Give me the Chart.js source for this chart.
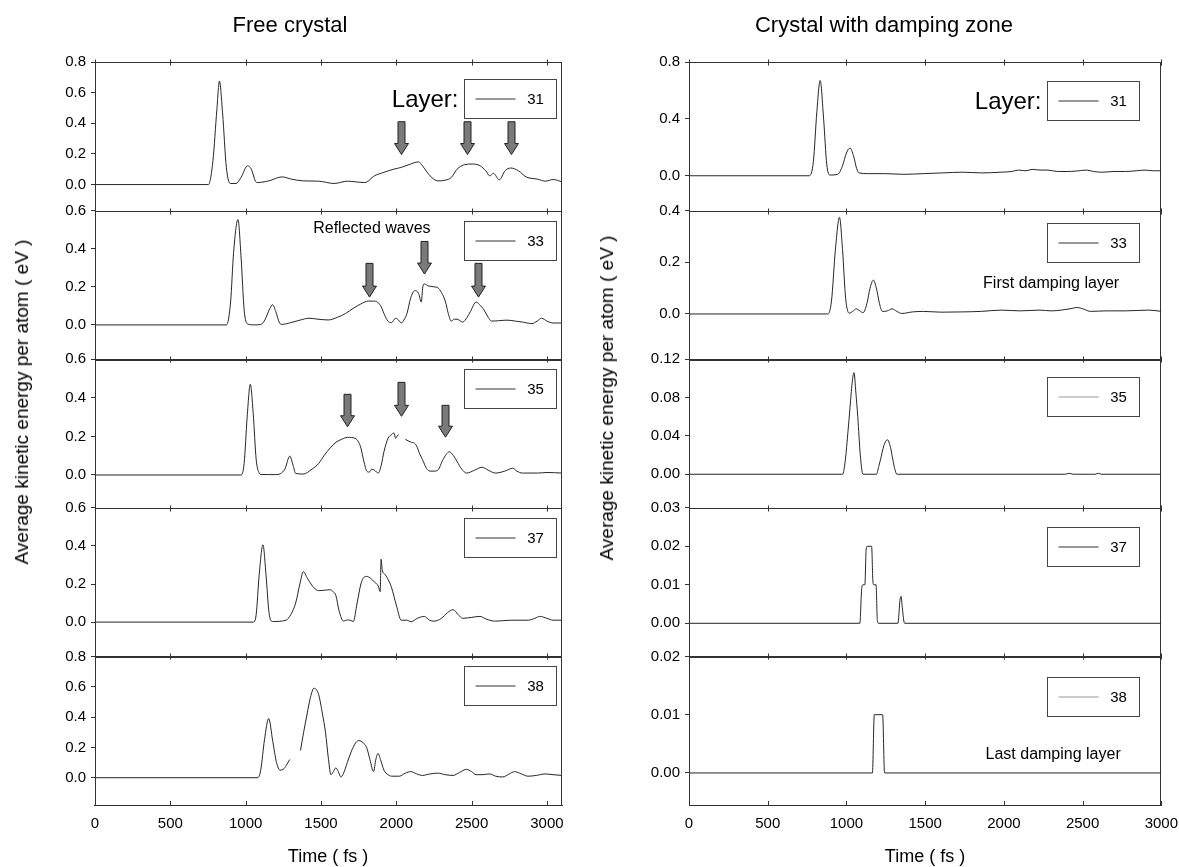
<!DOCTYPE html>
<html>
<head>
<meta charset="utf-8">
<title>Average kinetic energy per atom</title>
<script src="https://cdn.jsdelivr.net/npm/chart.js@4.4.1/dist/chart.umd.min.js"></script>
<style>
  body { margin: 0; background: #fff; }
  #page { position: relative; width: 1179px; height: 867px; overflow: hidden; font-family: "Liberation Sans", Arial, sans-serif; color: #000; }
  .col { position: absolute; top: 0; height: 867px; }
  .lbl { position: absolute; text-align: center; white-space: nowrap; }
  .ylbl { position: absolute; white-space: nowrap; transform: translate(-50%, -50%) rotate(-90deg); }
</style>
</head>
<body>
<div id="page">
  <div class="col" style="left:0;width:590px"><canvas id="chart-free"></canvas></div>
  <div class="col" style="left:590px;width:598px"><canvas id="chart-damp"></canvas></div>
  <div class="lbl" style="left:190px;width:200px;top:12px;font-size:22px">Free crystal</div>
  <div class="lbl" style="left:734px;width:300px;top:12px;font-size:22px">Crystal with damping zone</div>
  <div class="ylbl" style="left:22px;top:402px;font-size:19px">Average kinetic energy per atom ( eV )</div>
  <div class="ylbl" style="left:607px;top:398px;font-size:19px">Average kinetic energy per atom ( eV )</div>
  <div class="lbl" style="left:228px;width:200px;top:846px;font-size:18px">Time ( fs )</div>
  <div class="lbl" style="left:825px;width:200px;top:846px;font-size:18px">Time ( fs )</div>
</div>
<script>
/* Two columns of stacked panels: one Chart.js chart per column, one stacked y axis per layer. */

Chart.defaults.font.family = '"Liberation Sans", Arial, sans-serif';
Chart.defaults.color = "#000";

const FONT = '"Liberation Sans", Arial, sans-serif';

// x ticks (fs), shared by both columns
const timeTicks = [0, 500, 1000, 1500, 2000, 2500, 3000];

const layers = ["31", "33", "35", "37", "38"];

// y ticks per panel
const freeTicks = [
  [0, 0.2, 0.4, 0.6, 0.8],
  [0, 0.2, 0.4, 0.6],
  [0, 0.2, 0.4, 0.6],
  [0, 0.2, 0.4, 0.6],
  [0, 0.2, 0.4, 0.6, 0.8],
];
const dampTicks = [
  [0, 0.4, 0.8],
  [0, 0.2, 0.4],
  [0, 0.04, 0.08, 0.12],
  [0, 0.01, 0.02, 0.03],
  [0, 0.01, 0.02],
];

// free crystal: [time fs, energy eV]
const free31 = [[0,0],[753,0],[783,0.157],[809,0.49],[826,0.675],[847,0.465],[872,0.112],[898,0.007],[936,0.007],[969,0.046],
  [1013,0.123],[1038,0.1],[1064,0.024],[1077,0.013],[1153,0.024],[1242,0.05],[1306,0.035],[1383,0.024],[1485,0.022],[1587,0.007],
  [1676,0.022],[1727,0.018],[1791,0.013],[1855,0.057],[1918,0.08],[1982,0.1],[2033,0.112],[2084,0.13],[2148,0.148],[2173,0.123],
  [2224,0.057],[2276,0.024],[2327,0.029],[2365,0.046],[2403,0.1],[2454,0.13],[2505,0.134],[2556,0.123],[2594,0.09],[2620,0.057],
  [2645,0.073],[2684,0.031],[2722,0.09],[2760,0.108],[2811,0.09],[2862,0.05],[2939,0.035],[2990,0.022],[3041,0.033],[3100,0.018]];

const free33 = [[0,0],[873,0],[900,0.12],[920,0.38],[949,0.553],[970,0.35],[990,0.08],[1013,0.005],[1060,0],[1100,0.002],
  [1130,0.03],[1160,0.085],[1179,0.106],[1200,0.07],[1225,0.01],[1242,0.003],[1300,0.012],[1360,0.025],[1421,0.035],[1480,0.03],
  [1548,0.026],[1610,0.04],[1663,0.06],[1720,0.09],[1765,0.11],[1814,0.125],[1850,0.125],[1877,0.118],[1900,0.095],[1918,0.06],
  [1944,0.02],[1969,0.012],[1995,0.035],[2015,0.025],[2033,0.01],[2050,0.025],[2071,0.06],[2095,0.14],[2122,0.18],[2148,0.165],
  [2166,0.12],[2176,0.2],[2186,0.215],[2212,0.205],[2250,0.2],[2276,0.195],[2300,0.17],[2327,0.12],[2345,0.06],[2365,0.02],
  [2385,0.03],[2403,0.03],[2441,0.015],[2470,0.04],[2492,0.07],[2530,0.12],[2560,0.1],[2581,0.08],[2610,0.04],[2633,0.02],
  [2680,0.022],[2735,0.025],[2790,0.02],[2837,0.015],[2900,0.007],[2935,0.02],[2964,0.035],[3000,0.02],[3041,0.01],[3100,0.01]];

const free35 = [[0,0],[970,0],[990,0.06],[1010,0.3],[1031,0.47],[1050,0.32],[1070,0.08],[1090,0.01],[1102,0.003],[1200,0.002],
  [1260,0.03],[1293,0.098],[1315,0.05],[1332,0.008],[1383,0.005],[1440,0.03],[1485,0.06],[1520,0.1],[1561,0.14],[1600,0.17],
  [1638,0.185],[1676,0.195],[1727,0.19],[1750,0.17],[1765,0.14],[1785,0.07],[1804,0.02],[1820,0.015],[1837,0.03],[1855,0.025],
  [1880,0.01],[1900,0.05],[1918,0.12],[1945,0.19],[1969,0.21],[1985,0.218],[1995,0.19],[2005,0.2],[2015,0.21],[2030,null],
  [2060,0.185],[2097,0.17],[2120,0.165],[2135,0.15],[2155,0.11],[2174,0.08],[2200,0.035],[2224,0.02],[2250,0.02],[2276,0.025],
  [2310,0.08],[2352,0.12],[2380,0.1],[2403,0.07],[2435,0.03],[2467,0.01],[2520,0.025],[2569,0.04],[2610,0.025],[2658,0.01],
  [2720,0.02],[2773,0.035],[2800,0.02],[2837,0.01],[2939,0.01],[3000,0.013],[3100,0.01]];

const free37 = [[0,0],[1051,0],[1070,0.04],[1090,0.25],[1115,0.406],[1135,0.25],[1155,0.05],[1178,0.003],[1268,0.01],[1300,0.04],
  [1332,0.1],[1360,0.2],[1383,0.265],[1410,0.23],[1434,0.2],[1460,0.175],[1485,0.165],[1530,0.168],[1561,0.17],[1580,0.16],
  [1599,0.14],[1620,0.06],[1650,0.005],[1676,0.012],[1700,0.008],[1714,0.003],[1740,0.1],[1765,0.2],[1785,0.235],[1804,0.24],
  [1830,0.23],[1855,0.21],[1880,0.19],[1893,0.16],[1899,0.33],[1907,0.27],[1920,0.255],[1945,0.225],[1969,0.18],[2000,0.09],
  [2033,0.01],[2070,0.01],[2097,0.002],[2140,0.02],[2186,0.03],[2220,0.01],[2250,0.005],[2300,0.02],[2340,0.05],[2378,0.065],
  [2410,0.04],[2441,0.02],[2500,0.025],[2556,0.03],[2600,0.015],[2658,0.005],[2760,0.01],[2875,0.01],[2920,0.02],[2952,0.03],
  [3000,0.02],[3041,0.01],[3100,0.01]];

const free38 = [[0,0],[1081,0],[1100,0.05],[1125,0.25],[1153,0.39],[1180,0.24],[1205,0.1],[1229,0.05],[1255,0.06],[1275,0.09],
  [1293,0.12],[1330,null],[1364,0.18],[1385,0.3],[1408,0.42],[1430,0.53],[1454,0.59],[1484,0.55],[1510,0.42],[1530,0.3],
  [1550,0.12],[1566,0.02],[1582,0.04],[1599,0.065],[1615,0.04],[1632,0.005],[1650,0.03],[1675,0.1],[1700,0.17],[1714,0.2],
  [1730,0.23],[1752,0.245],[1780,0.23],[1803,0.2],[1825,0.12],[1849,0.04],[1864,0.12],[1879,0.16],[1895,0.12],[1918,0.05],
  [1945,0.02],[1969,0.01],[2020,0.01],[2060,0.03],[2096,0.04],[2135,0.025],[2173,0.015],[2225,0.025],[2275,0.03],[2325,0.02],
  [2377,0.015],[2420,0.035],[2466,0.055],[2500,0.04],[2530,0.02],[2575,0.02],[2619,0.025],[2660,0.01],[2708,0.005],[2750,0.025],
  [2785,0.04],[2830,0.025],[2874,0.01],[2930,0.015],[2988,0.025],[3040,0.02],[3100,0.015]];

// crystal with damping zone
const damp31 = [[0,0],[764,0],[790,0.1],[812,0.45],[833,0.67],[855,0.4],[875,0.08],[895,0.005],[944,0.01],[975,0.07],
  [1000,0.16],[1023,0.195],[1045,0.14],[1065,0.05],[1080,0.02],[1140,0.015],[1240,0.015],[1364,0.01],[1488,0.015],[1611,0.02],
  [1735,0.025],[1858,0.02],[1982,0.025],[2050,0.03],[2093,0.04],[2140,0.035],[2180,0.045],[2230,0.04],[2279,0.04],[2340,0.03],
  [2402,0.03],[2460,0.033],[2525,0.04],[2570,0.03],[2624,0.025],[2700,0.03],[2772,0.03],[2840,0.035],[2896,0.04],[2950,0.035],
  [3000,0.035]];

const damp33 = [[0,0],[882,0],[905,0.05],[930,0.25],[956,0.374],[975,0.25],[995,0.06],[1018,0.003],[1040,0.01],[1063,0.02],
  [1085,0.012],[1105,0.005],[1130,0.04],[1150,0.1],[1171,0.131],[1190,0.1],[1210,0.04],[1228,0.01],[1260,0.012],[1290,0.02],
  [1320,0.01],[1352,0.002],[1420,0.008],[1488,0.01],[1600,0.007],[1735,0.008],[1858,0.01],[1982,0.015],[2105,0.012],[2229,0.015],
  [2300,0.012],[2365,0.015],[2420,0.02],[2464,0.025],[2510,0.018],[2550,0.01],[2650,0.012],[2772,0.012],[2921,0.015],[3000,0.01]];

const damp35 = [[0,0],[976,0],[993,0.015],[1010,0.045],[1023,0.07],[1036,0.095],[1048,0.106],[1060,0.085],[1072,0.06],[1088,0.02],
  [1105,0],[1191,0],[1205,0.008],[1216,0.015],[1238,0.03],[1260,0.036],[1280,0.028],[1295,0.015],[1308,0.005],[1320,0],
  [2390,0],[2414,0.001],[2440,0],[2580,0],[2600,0.001],[2620,0],[3000,0]];

const damp37 = [[0,0],[1085,0],[1097,0.009],[1105,0.01],[1117,0.01],[1125,0.019],[1132,0.02],[1160,0.02],[1168,0.011],[1174,0.01],
  [1188,0.01],[1196,0.001],[1203,0],[1327,0],[1340,0.006],[1347,0.007],[1355,0.004],[1369,0],[3000,0]];

const damp38 = [[0,0],[1165,0],[1177,0.01],[1230,0.01],[1242,0],[3000,0]];

// arrows: panel, time (fs), top and tip (eV)
const freeArrows = [
  [0, 2033, 0.41, 0.196], [0, 2467, 0.41, 0.196], [0, 2760, 0.41, 0.196],
  [1, 1816, 0.323, 0.146], [1, 2181, 0.438, 0.267], [1, 2543, 0.323, 0.146],
  [2, 1671, 0.418, 0.25], [2, 2033, 0.48, 0.304], [2, 2321, 0.361, 0.196],
];
const freeNotes = [[1, "Reflected waves", 1838, 0.503]];
const dampNotes = [[1, "First damping layer", 2300, 0.118], [4, "Last damping layer", 2313, 0.0031]];

const freeCol = {
  canvas: "chart-free", xMax: 3100, yWidth: 44,
  padding: { left: 51, right: 28, top: 62, bottom: 38 },
  series: [free31, free33, free35, free37, free38],
  ticks: freeTicks, decimals: [1, 1, 1, 1, 1],
  ranges: [[-0.17, 0.8], [-0.18, 0.6], [-0.17, 0.6], [-0.18, 0.6], [-0.18, 0.8]],
  legendRight: 6, legendTop: [17, 10, 10, 10, 10],
  legendLine: ["#333", "#333", "#333", "#333", "#333"],
  arrows: freeArrows, notes: freeNotes,
};
const dampCol = {
  canvas: "chart-damp", xMax: 3000, yWidth: 50,
  padding: { left: 49, right: 19, top: 62, bottom: 38 },
  series: [damp31, damp33, damp35, damp37, damp38],
  ticks: dampTicks, decimals: [1, 1, 2, 2, 2],
  ranges: [[-0.245, 0.8], [-0.175, 0.4], [-0.035, 0.12], [-0.0086, 0.03], [-0.0055, 0.02]],
  legendRight: 22, legendTop: [19, 12, 18, 19, 21],
  legendLine: ["#333", "#333", "#999", "#333", "#999"],
  arrows: [], notes: dampNotes,
};

function drawArrow(ctx, x, yTop, yTip) {
  const shaft = 3.5, head = 7, headH = 11;
  ctx.beginPath();
  ctx.moveTo(x - shaft, yTop);
  ctx.lineTo(x + shaft, yTop);
  ctx.lineTo(x + shaft, yTip - headH);
  ctx.lineTo(x + head, yTip - headH);
  ctx.lineTo(x, yTip);
  ctx.lineTo(x - head, yTip - headH);
  ctx.lineTo(x - shaft, yTip - headH);
  ctx.closePath();
  ctx.fillStyle = "#7a7a7a";
  ctx.fill();
  ctx.strokeStyle = "#222";
  ctx.lineWidth = 1;
  ctx.stroke();
}

// frames, top-edge ticks, legend boxes, arrows and notes
function decorPlugin(col) {
  return {
    id: "decor",
    afterDatasetsDraw(chart) {
      const { ctx, chartArea: area } = chart;
      const xs = chart.scales.x;
      ctx.save();
      col.series.forEach((s, i) => {
        const ys = chart.scales["y" + i];
        const top = Math.round(ys.top) + 0.5;
        ctx.strokeStyle = "#333";
        ctx.lineWidth = 1;
        ctx.strokeRect(Math.round(area.left) + 0.5, top, Math.round(area.right - area.left) - 1, Math.round(ys.bottom - ys.top));
        for (const t of timeTicks) {
          const px = Math.round(xs.getPixelForValue(t)) + 0.5;
          ctx.beginPath();
          ctx.moveTo(px, top - 3);
          ctx.lineTo(px, top + 3);
          if (i === col.series.length - 1) {
            ctx.moveTo(px, area.bottom);
            ctx.lineTo(px, area.bottom - 4);
          }
          ctx.stroke();
        }
        // legend box
        const w = 92, h = 39;
        const bx = Math.round(area.right - col.legendRight - w) + 0.5;
        const by = Math.round(ys.top + col.legendTop[i]) + 0.5;
        ctx.strokeStyle = "#444";
        ctx.strokeRect(bx, by, w, h);
        ctx.strokeStyle = col.legendLine[i];
        ctx.beginPath();
        ctx.moveTo(bx + 11, by + h / 2);
        ctx.lineTo(bx + 51, by + h / 2);
        ctx.stroke();
        ctx.fillStyle = "#000";
        ctx.font = "15px " + FONT;
        ctx.textAlign = "center";
        ctx.textBaseline = "middle";
        ctx.fillText(layers[i], bx + 71, by + h / 2 + 1);
        if (i === 0) {
          ctx.font = "24px " + FONT;
          ctx.textAlign = "right";
          ctx.fillText("Layer:", bx - 6, by + h / 2 + 1);
        }
      });
      for (const [p, t, top, tip] of col.arrows) {
        const ys = chart.scales["y" + p];
        drawArrow(ctx, Math.round(xs.getPixelForValue(t)) + 0.5, ys.getPixelForValue(top), ys.getPixelForValue(tip));
      }
      ctx.fillStyle = "#000";
      ctx.font = "16px " + FONT;
      ctx.textAlign = "center";
      ctx.textBaseline = "middle";
      for (const [p, text, t, e] of col.notes) {
        const ys = chart.scales["y" + p];
        ctx.fillText(text, xs.getPixelForValue(t), ys.getPixelForValue(e));
      }
      ctx.restore();
    },
  };
}

function makeColumn(col) {
  const scales = {
    x: {
      type: "linear", min: 0, max: col.xMax,
      afterBuildTicks: (s) => { s.ticks = timeTicks.map((v) => ({ value: v })); },
      afterFit: (s) => { s.height = 24; },
      ticks: { font: { size: 15 }, color: "#000", padding: 10, maxRotation: 0, autoSkip: false, callback: (v) => String(v) },
      grid: { drawOnChartArea: false, drawTicks: false },
      border: { color: "#333" },
    },
  };
  // bottom panel first: Chart.js places the last left axis at the top of a stack
  for (let i = col.series.length - 1; i >= 0; i--) {
    const ticks = col.ticks[i], dec = col.decimals[i];
    scales["y" + i] = {
      type: "linear", position: "left", stack: "col", stackWeight: 1,
      min: col.ranges[i][0], max: col.ranges[i][1],
      afterBuildTicks: (s) => { s.ticks = ticks.map((v) => ({ value: v })); },
      afterFit: (s) => { s.width = col.yWidth; },
      ticks: { font: { size: 15 }, color: "#000", padding: 5, autoSkip: false, callback: (v) => Number(v).toFixed(dec) },
      grid: { drawOnChartArea: false, tickLength: 4, color: "#333" },
      border: { color: "#333" },
    };
  }
  return new Chart(document.getElementById(col.canvas), {
    type: "line",
    data: {
      datasets: col.series.map((s, i) => ({
        label: layers[i],
        data: s.map(([t, e]) => ({ x: t, y: e })),
        yAxisID: "y" + i,
        borderColor: "#262626", borderWidth: 1, pointRadius: 0,
        cubicInterpolationMode: "monotone", spanGaps: false,
      })),
    },
    options: {
      responsive: true, maintainAspectRatio: false, animation: false,
      layout: { padding: col.padding },
      plugins: { legend: { display: false }, tooltip: { enabled: false } },
      scales,
    },
    plugins: [decorPlugin(col)],
  });
}

makeColumn(freeCol);
makeColumn(dampCol);
</script>
</body>
</html>
